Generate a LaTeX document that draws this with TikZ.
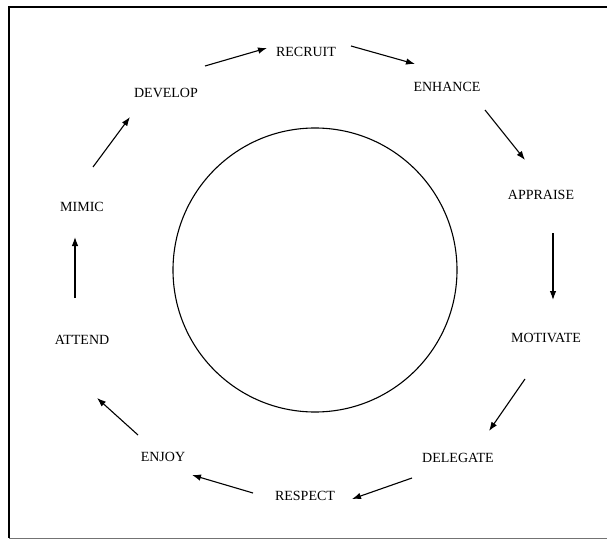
\documentclass[tikz,border=0pt]{standalone}
\usepackage{fontspec}
\setmainfont{Liberation Serif}
\usetikzlibrary{arrows.meta}
\begin{document}
\begin{tikzpicture}[x=1pt,y=-1pt,
  lbl/.style={inner sep=0pt, font=\fontsize{14}{16}\selectfont},
  arr/.style={line width=1.1pt, -{Latex[length=9pt,width=6.5pt]}}]
\useasboundingbox (0,0) rectangle (607,540);
\fill[white] (0,0) rectangle (607,540);
% frame
\draw[line width=1.5pt] (607,7) -- (9,7) -- (9,538);
\draw[line width=1pt, black!55] (9,538) -- (607,538);
% circle
\node[circle, draw, line width=1.1pt, minimum size=284pt, inner sep=0pt] (ring) at (315,270) {};
% labels
\node[lbl] (rec) at (306,52) {RECRUIT};
\node[lbl] (enh) at (447,87) {ENHANCE};
\node[lbl] (app) at (541,195) {APPRAISE};
\node[lbl] (mot) at (546,338) {MOTIVATE};
\node[lbl] (del) at (458,458) {DELEGATE};
\node[lbl] (res) at (305,496) {RESPECT};
\node[lbl] (enj) at (163,457) {ENJOY};
\node[lbl] (att) at (82,340) {ATTEND};
\node[lbl] (mim) at (82,207) {MIMIC};
\node[lbl] (dev) at (166,93) {DEVELOP};
% arrows
\draw[arr] ([shift={(39,-27)}]dev.center) -- ([shift={(-39,-4)}]rec.center);
\draw[arr] ([shift={(45,-6)}]rec.center) -- ([shift={(-32,-23)}]enh.center);
\draw[arr] ([shift={(38,23)}]enh.center) -- ([shift={(-16,-35)}]app.center);
\draw[arr] ([shift={(12,38)}]app.center) -- ([shift={(7,-38)}]mot.center);
\draw[arr] ([shift={(-21,41)}]mot.center) -- ([shift={(31,-27)}]del.center);
\draw[arr] ([shift={(-46,20)}]del.center) -- ([shift={(47,3)}]res.center);
\draw[arr] ([shift={(-52,-3)}]res.center) -- ([shift={(29,18)}]enj.center);
\draw[arr] ([shift={(-25,-22)}]enj.center) -- ([shift={(15,58)}]att.center);
\draw[arr] ([shift={(-7,-42)}]att.center) -- ([shift={(-7,30)}]mim.center);
\draw[arr] ([shift={(11,-40)}]mim.center) -- ([shift={(-36,24)}]dev.center);
\end{tikzpicture}
\end{document}
